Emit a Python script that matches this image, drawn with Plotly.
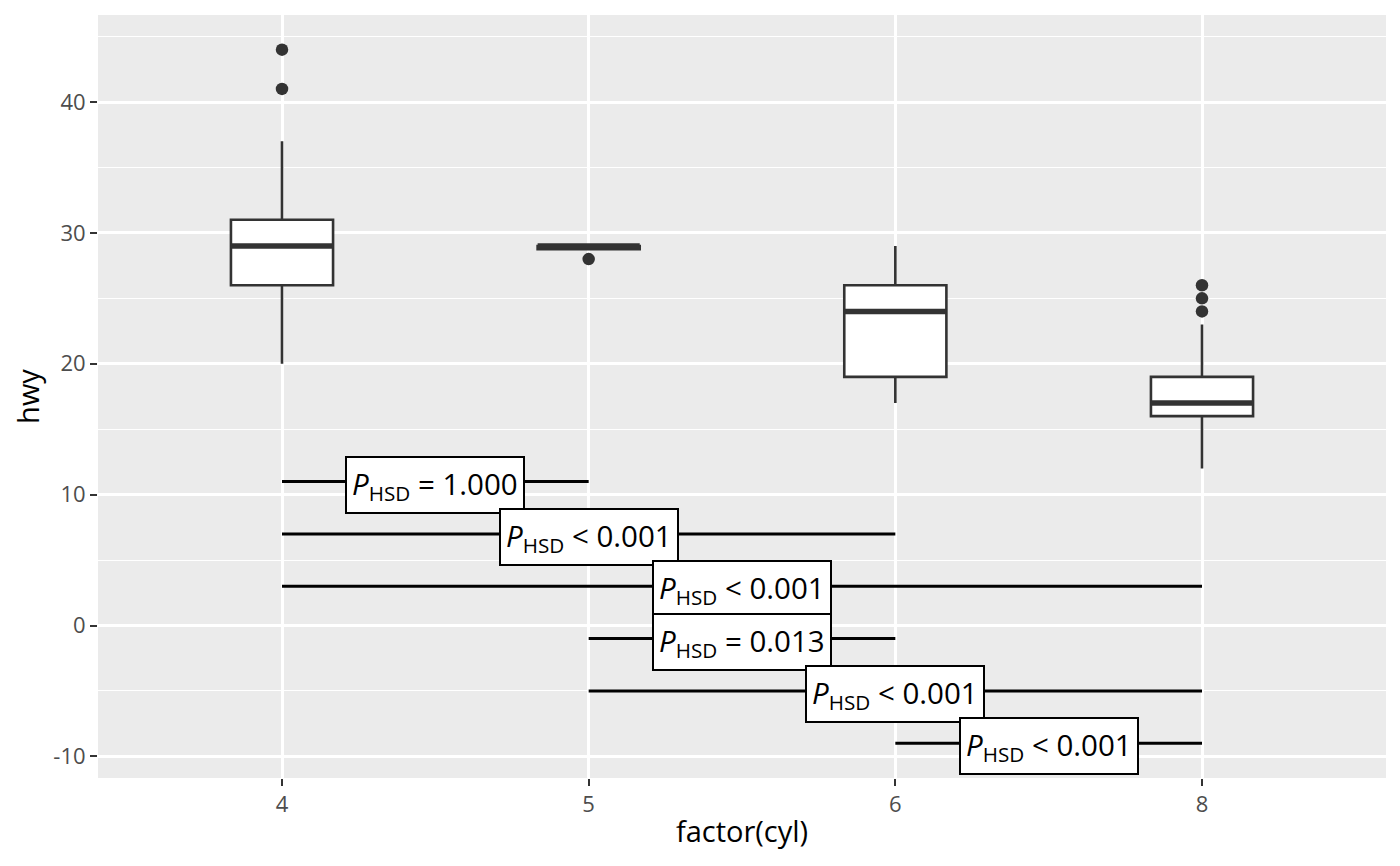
import plotly.graph_objects as go

# ---- data ----
categories = ["4", "5", "6", "8"]
lower_whisker = [20, 29, 17, 12]
q1 = [26, 28.75, 19, 16]
median = [29, 29, 24, 17]
q3 = [31, 29, 26, 19]
upper_whisker = [37, 29, 29, 23]
outlier_cat = ["4", "4", "5", "8", "8", "8"]
outlier_val = [44, 41, 28, 26, 25, 24]

comp_start = ["4", "4", "4", "5", "5", "6"]
comp_end = ["5", "6", "8", "6", "8", "8"]
comp_y = [11, 7, 3, -1, -5, -9]
comp_op = ["=", "<", "<", "=", "<", "<"]
comp_p = ["1.000", "0.001", "0.001", "0.013", "0.001", "0.001"]

y_ticks = [-10, 0, 10, 20, 30, 40]
y_ticklabels = ["-10", "0", "10", "20", "30", "40"]

# ---- styles ----
BOX_W = 0.333
DARK = "#333333"
FONT = "Open Sans"

pos = {c: i + 1 for i, c in enumerate(categories)}
xs = [pos[c] for c in categories]

fig = go.Figure()

fig.add_trace(go.Box(
    x=xs, q1=q1, median=median, q3=q3,
    lowerfence=lower_whisker, upperfence=upper_whisker,
    width=BOX_W, whiskerwidth=0,
    fillcolor="white", line=dict(color=DARK, width=2.6),
    boxpoints=False, showlegend=False, hoverinfo="skip",
))

# thicker median lines
mx, my = [], []
for x, m in zip(xs, median):
    mx += [x - BOX_W / 2, x + BOX_W / 2, None]
    my += [m, m, None]
fig.add_trace(go.Scatter(x=mx, y=my, mode="lines",
                         line=dict(color=DARK, width=5.5),
                         showlegend=False, hoverinfo="skip"))

fig.add_trace(go.Scatter(
    x=[pos[c] for c in outlier_cat], y=outlier_val, mode="markers",
    marker=dict(color=DARK, size=12.5), showlegend=False, hoverinfo="skip"))

# comparison lines
cx, cy = [], []
for s, e, y in zip(comp_start, comp_end, comp_y):
    cx += [pos[s], pos[e], None]
    cy += [y, y, None]
fig.add_trace(go.Scatter(x=cx, y=cy, mode="lines",
                         line=dict(color="black", width=3),
                         showlegend=False, hoverinfo="skip"))

for s, e, y, op, p in zip(comp_start, comp_end, comp_y, comp_op, comp_p):
    fig.add_annotation(
        x=(pos[s] + pos[e]) / 2, y=y, xref="x", yref="y", yshift=-3,
        text=f"<i>P</i><sub>HSD</sub> {op} {p}",
        showarrow=False, font=dict(family=FONT, size=29.5, color="black"),
        bgcolor="white", bordercolor="black", borderwidth=2, borderpad=5,
    )

# page body has an 8px margin: shrink figure accordingly
fig.update_layout(
    width=1392, height=858,
    margin=dict(l=90, r=14, t=7, b=88),
    paper_bgcolor="white", plot_bgcolor="#EBEBEB",
    font=dict(family=FONT, color="black"),
    showlegend=False,
)
fig.update_xaxes(
    range=[0.4, 4.6], tickvals=xs, ticktext=categories,
    showgrid=True, gridcolor="white", gridwidth=2.6, zeroline=False,
    ticks="outside", ticklen=7, tickwidth=2.4, tickcolor=DARK,
    tickfont=dict(family=FONT, size=22, color="#4D4D4D"),
    title=dict(text="factor(cyl)", font=dict(family=FONT, size=29, color="black"), standoff=4),
)
fig.update_yaxes(
    range=[-11.65, 46.65], tickvals=y_ticks, ticktext=y_ticklabels,
    showgrid=True, gridcolor="white", gridwidth=2.6, zeroline=False,
    minor=dict(tickvals=[-5, 5, 15, 25, 35, 45], showgrid=True, gridcolor="white", gridwidth=1.3, ticks=""),
    ticks="outside", ticklen=7, tickwidth=2.4, tickcolor=DARK,
    tickfont=dict(family=FONT, size=22, color="#4D4D4D"),
    title=dict(text="hwy", font=dict(family=FONT, size=29, color="black"), standoff=8),
)

fig.write_html("out.html")
